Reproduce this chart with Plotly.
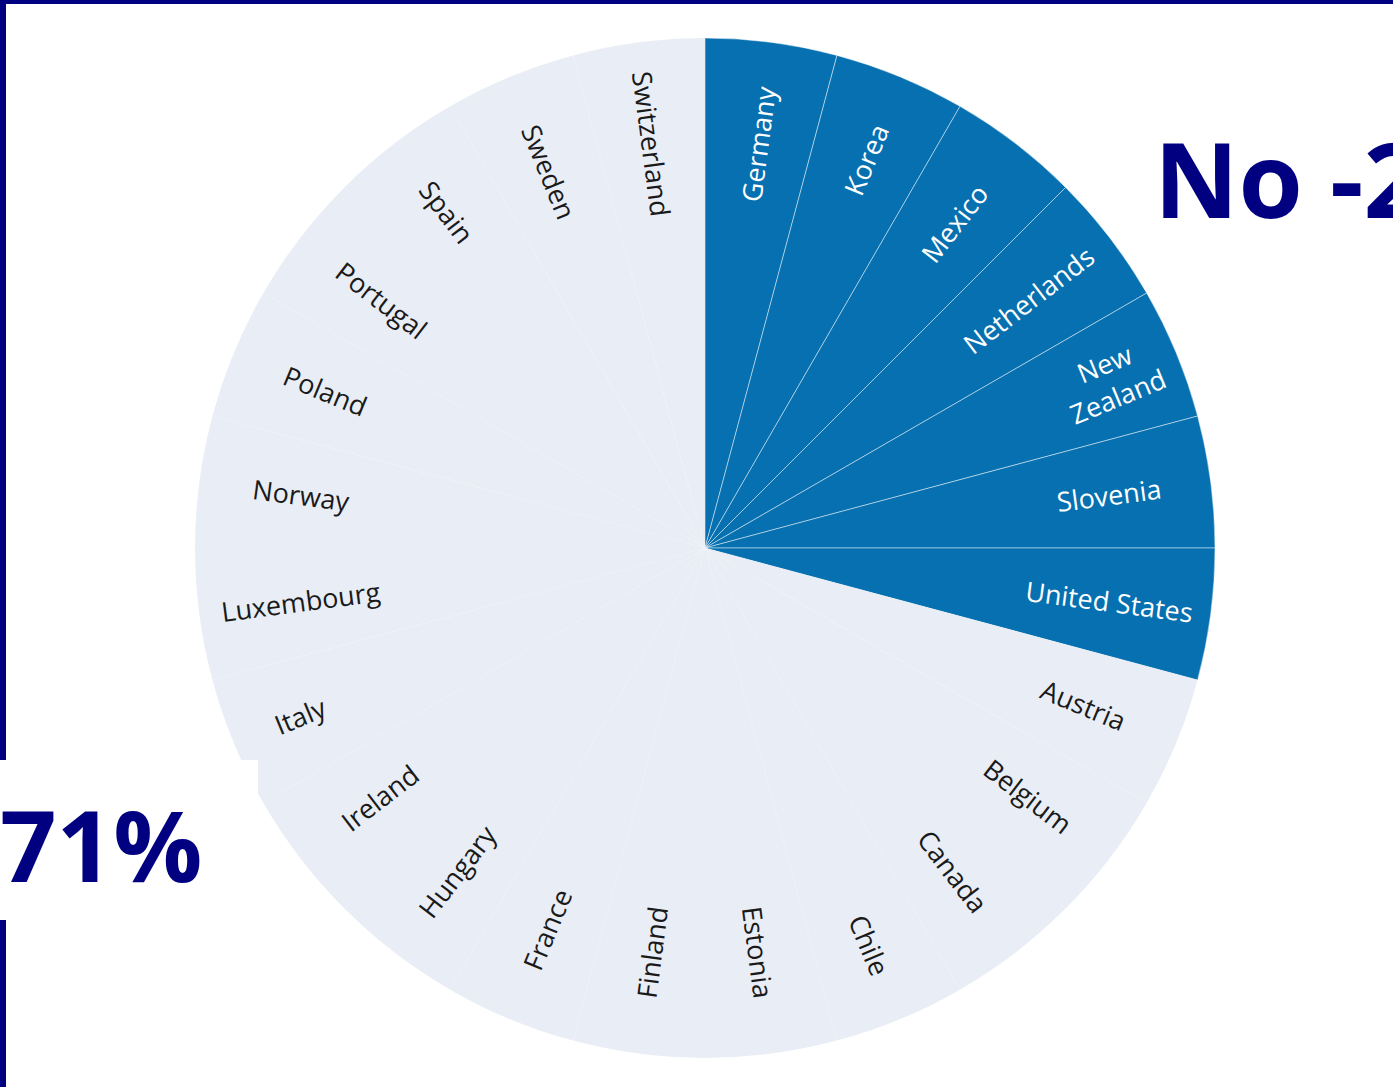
import plotly.graph_objects as go

# Countries in clockwise order starting at 12 o'clock
yes_countries = ["Germany", "Korea", "Mexico", "Netherlands", "New<br>Zealand",
                 "Slovenia", "United States"]
no_countries = ["Austria", "Belgium", "Canada", "Chile", "Estonia", "Finland",
                "France", "Hungary", "Ireland", "Italy", "Luxembourg", "Norway",
                "Poland", "Portugal", "Spain", "Sweden", "Switzerland"]
slice_weight = 1  # every country gets an equal slice

no_share_label = "71%"
yes_share_label = "No -29%"

W, H = 1393, 1087
NAVY = "#000080"
BLUE = "#0670B0"
LIGHT = "#E9EEF6"

labels = yes_countries + no_countries
values = [slice_weight] * len(labels)
colors = [BLUE] * len(yes_countries) + [LIGHT] * len(no_countries)
line_colors = (["rgba(255,255,255,0.45)"] * len(yes_countries)
               + ["rgba(255,255,255,0.07)"] * len(no_countries))
text_colors = ["white"] * len(yes_countries) + ["#1a1a1a"] * len(no_countries)

cx, cy, R = 705, 548, 510
domain = dict(x=[(cx - R) / W, (cx + R) / W],
              y=[(H - cy - R) / H, (H - cy + R) / H])

fig = go.Figure()

# filled wedges
fig.add_trace(go.Pie(
    labels=labels, values=values, sort=False,
    direction="clockwise", rotation=0,
    marker=dict(colors=colors, line=dict(color=line_colors, width=1)),
    textinfo="none", hoverinfo="label", showlegend=False,
    domain=domain,
))

# country names, set in the outer ring of the wedges
fig.add_trace(go.Pie(
    labels=labels, values=values, sort=False,
    direction="clockwise", rotation=0, hole=0.6,
    marker=dict(colors=["rgba(0,0,0,0)"] * len(labels), line=dict(width=0)),
    textinfo="label", textposition="inside",
    insidetextorientation="radial",
    insidetextfont=dict(color=text_colors, size=27, family="Open Sans"),
    hoverinfo="skip", showlegend=False,
    domain=domain,
))


def px(x):
    return x / W


def py(y):
    return 1 - y / H


shapes = [
    # frame lines
    dict(type="rect", xref="paper", yref="paper", x0=px(0), x1=px(W), y0=py(4), y1=py(0),
         fillcolor=NAVY, line=dict(width=0), layer="above"),
    dict(type="rect", xref="paper", yref="paper", x0=px(0), x1=px(6), y0=py(H), y1=py(0),
         fillcolor=NAVY, line=dict(width=0), layer="above"),
    # white panel behind the percentage
    dict(type="rect", xref="paper", yref="paper", x0=px(0), x1=px(258), y0=py(920), y1=py(760),
         fillcolor="white", line=dict(width=0), layer="above"),
]

annotations = [
    dict(text=f"<b>{no_share_label}</b>", xref="paper", yref="paper", x=px(-2), y=py(843),
         xanchor="left", yanchor="middle", showarrow=False,
         font=dict(family="Open Sans", size=99, color=NAVY)),
    dict(text=f"<b>{yes_share_label}</b>", xref="paper", yref="paper", x=px(1152), y=py(178),
         xanchor="left", yanchor="middle", showarrow=False,
         font=dict(family="Open Sans", size=104, color=NAVY)),
]

fig.update_layout(
    width=W, height=H,
    margin=dict(l=0, r=0, t=0, b=0),
    paper_bgcolor="white",
    plot_bgcolor="white",
    shapes=shapes,
    annotations=annotations,
)

fig.write_html("out.html")
